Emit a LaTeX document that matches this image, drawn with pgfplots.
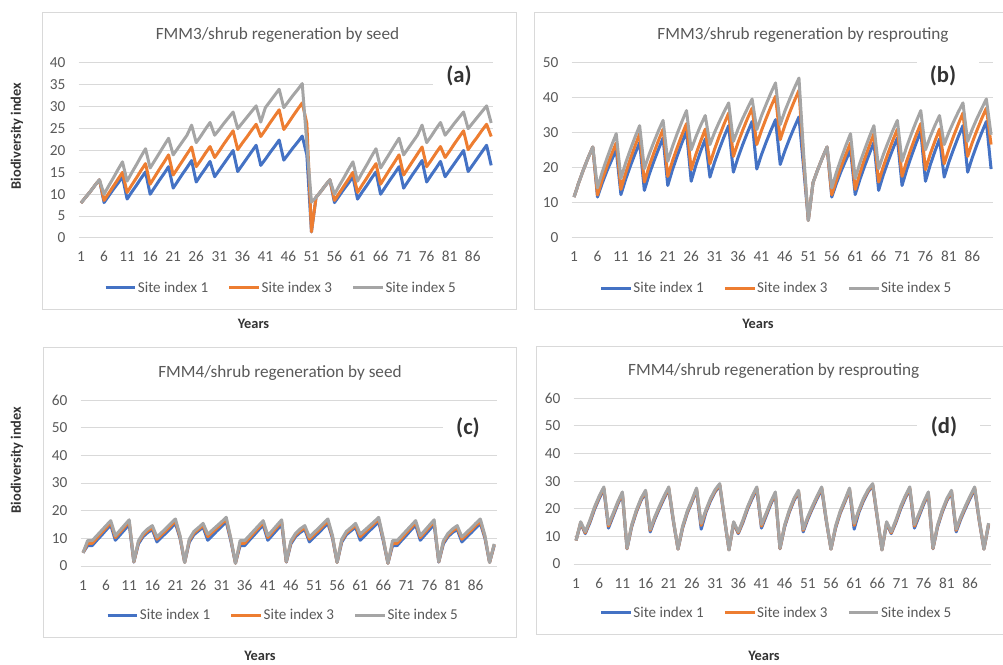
\documentclass[border=0pt]{standalone}
\usepackage{fontspec}
\setmainfont{Carlito}
\usepackage{pgfplots}
\usepackage{pgfplotstable}
\pgfplotsset{compat=1.18}

\definecolor{sone}{HTML}{4472C4}
\definecolor{sthree}{HTML}{ED7D31}
\definecolor{sfive}{HTML}{A5A5A5}
\definecolor{gridgray}{HTML}{D9D9D9}
\definecolor{ticktxt}{HTML}{595959}
\definecolor{labtxt}{HTML}{333333}

% k = year, b/o/g = site index 1/3/5
\pgfplotstableread{
k b o g
1 8.0 8.0 8.0
2 9.3 9.3 9.3
3 10.6 10.6 10.6
4 12.0 12.0 12.0
5 13.3 13.3 13.3
6 8.1 8.6 10.0
7 9.6 10.2 11.9
8 11.1 11.8 13.7
9 12.5 13.4 15.6
10 14.0 15.0 17.4
11 8.9 10.4 13.0
12 10.5 12.1 14.9
13 12.0 13.7 16.7
14 13.6 15.4 18.6
15 15.1 17.0 20.4
16 10.0 12.3 16.0
17 11.6 14.0 17.7
18 13.2 15.7 19.4
19 14.7 17.3 21.1
20 16.3 19.0 22.8
21 11.4 14.4 19.0
22 13.0 16.0 20.5
23 14.6 17.6 22.0
24 16.1 19.2 23.5
25 17.7 20.8 25.8
26 12.8 16.3 21.8
27 14.4 17.8 23.3
28 15.9 19.4 24.9
29 17.5 20.9 26.4
30 14.0 18.4 23.5
31 15.5 19.9 24.8
32 17.0 21.5 26.2
33 18.5 23.0 27.5
34 20.0 24.5 28.8
35 15.2 20.2 25.0
36 16.7 21.7 26.3
37 18.2 23.1 27.6
38 19.7 24.6 28.9
39 21.2 26.0 30.2
40 16.6 23.2 26.5
41 18.0 24.7 29.8
42 19.5 26.3 31.2
43 20.9 27.8 32.6
44 22.4 29.3 34.0
45 17.8 24.8 29.8
46 19.2 26.3 31.2
47 20.6 27.9 32.6
48 21.9 29.4 33.9
49 23.3 30.9 35.3
50 19.0 26.2 21.5
51 1.4 1.4 8.2
52 9.3 9.3 9.3
53 10.6 10.6 10.6
54 12.0 12.0 12.0
55 13.3 13.3 13.3
56 8.1 8.6 10.0
57 9.6 10.2 11.9
58 11.1 11.8 13.7
59 12.5 13.4 15.6
60 14.0 15.0 17.4
61 8.9 10.4 13.0
62 10.5 12.1 14.9
63 12.0 13.7 16.7
64 13.6 15.4 18.6
65 15.1 17.0 20.4
66 10.0 12.3 16.0
67 11.6 14.0 17.7
68 13.2 15.7 19.4
69 14.7 17.3 21.1
70 16.3 19.0 22.8
71 11.4 14.4 19.0
72 13.0 16.0 20.5
73 14.6 17.6 22.0
74 16.1 19.2 23.5
75 17.7 20.8 25.8
76 12.8 16.3 21.8
77 14.4 17.8 23.3
78 15.9 19.4 24.9
79 17.5 20.9 26.4
80 14.0 18.4 23.5
81 15.5 19.9 24.8
82 17.0 21.5 26.2
83 18.5 23.0 27.5
84 20.0 24.5 28.8
85 15.2 20.2 25.0
86 16.7 21.7 26.3
87 18.2 23.1 27.6
88 19.7 24.6 28.9
89 21.2 26.0 30.2
90 16.6 23.2 26.3
}\seedthree

\pgfplotstableread{
k b o g
1 11.7 11.7 11.7
2 15.8 15.8 15.8
3 19.5 19.5 19.5
4 22.9 22.9 22.9
5 26.0 26.0 26.0
6 11.7 12.3 14.3
7 15.6 16.6 18.8
8 19.1 20.4 22.7
9 22.2 23.9 26.4
10 25.2 27.2 29.8
11 12.4 13.9 17.0
12 16.7 18.5 21.4
13 20.5 22.6 25.2
14 24.0 26.3 28.8
15 27.3 29.8 32.1
16 13.6 16.0 19.8
17 18.0 20.4 23.8
18 21.8 24.2 27.3
19 25.3 27.8 30.6
20 28.6 31.1 33.6
21 15.0 17.6 21.9
22 19.5 22.0 26.1
23 23.4 25.8 29.8
24 27.1 29.4 33.2
25 30.5 32.7 36.4
26 16.2 19.5 25.2
27 20.8 23.9 28.9
28 24.7 27.6 32.1
29 28.3 31.1 35.0
30 17.4 21.2 26.7
31 21.7 25.4 30.2
32 25.4 29.1 33.2
33 28.9 32.5 36.0
34 32.1 35.7 38.6
35 18.8 23.3 27.6
36 23.0 27.3 31.1
37 26.7 30.8 34.2
38 30.1 34.1 37.0
39 33.3 37.1 39.7
40 19.7 26.7 31.0
41 23.8 30.7 34.9
42 27.4 34.2 38.2
43 30.7 37.5 41.4
44 33.8 40.5 44.3
45 21.0 28.1 32.4
46 24.9 32.2 36.3
47 28.4 35.8 39.6
48 31.6 39.1 42.8
49 34.6 42.2 45.7
50 20.0 22.0 24.0
51 5.0 5.0 5.0
52 15.8 15.8 15.8
53 19.5 19.5 19.5
54 22.9 22.9 22.9
55 26.0 26.0 26.0
56 11.7 12.3 14.3
57 15.6 16.6 18.8
58 19.1 20.4 22.7
59 22.2 23.9 26.4
60 25.2 27.2 29.8
61 12.4 13.9 17.0
62 16.7 18.5 21.4
63 20.5 22.6 25.2
64 24.0 26.3 28.8
65 27.3 29.8 32.1
66 13.6 16.0 19.8
67 18.0 20.4 23.8
68 21.8 24.2 27.3
69 25.3 27.8 30.6
70 28.6 31.1 33.6
71 15.0 17.6 21.9
72 19.5 22.0 26.1
73 23.4 25.8 29.8
74 27.1 29.4 33.2
75 30.5 32.7 36.4
76 16.2 19.5 25.2
77 20.8 23.9 28.9
78 24.7 27.6 32.1
79 28.3 31.1 35.0
80 17.4 21.2 26.7
81 21.7 25.4 30.2
82 25.4 29.1 33.2
83 28.9 32.5 36.0
84 32.1 35.7 38.6
85 18.8 23.3 27.6
86 23.0 27.3 31.1
87 26.7 30.8 34.2
88 30.1 34.1 37.0
89 33.3 37.1 39.7
90 19.7 26.7 29.5
}\resproutthree

\pgfplotstableread{
k b o g
1 4.8 4.8 4.8
2 7.4 8.2 9.2
3 7.4 8.2 9.2
4 9.3 10.1 11.0
5 11.1 12.0 12.8
6 13.0 13.8 14.6
7 14.8 15.7 16.4
8 9.3 10.3 11.0
9 11.2 12.2 12.9
10 13.1 14.1 14.8
11 15.0 16.0 16.7
12 1.4 1.5 1.6
13 8.0 8.6 9.1
14 10.6 11.2 11.8
15 12.1 12.7 13.4
16 13.2 13.9 14.6
17 8.7 9.7 10.5
18 10.4 11.3 12.1
19 12.0 12.9 13.7
20 13.7 14.6 15.4
21 15.4 16.2 17.0
22 10.0 10.5 11.0
23 1.3 1.3 1.3
24 8.6 9.2 9.7
25 11.3 11.9 12.5
26 12.7 13.3 13.9
27 14.0 14.7 15.4
28 9.3 10.6 11.5
29 11.0 12.2 13.0
30 12.7 13.7 14.5
31 14.3 15.3 16.0
32 16.0 16.8 17.6
33 9.0 9.6 10.0
34 1.0 1.0 1.0
35 7.4 8.2 9.2
36 7.4 8.2 9.2
37 9.3 10.1 11.0
38 11.1 12.0 12.8
39 13.0 13.8 14.6
40 14.8 15.7 16.4
41 9.3 10.3 11.0
42 11.2 12.2 12.9
43 13.1 14.1 14.8
44 15.0 16.0 16.7
45 1.4 1.5 1.6
46 8.0 8.6 9.1
47 10.6 11.2 11.8
48 12.1 12.7 13.4
49 13.2 13.9 14.6
50 8.7 9.7 10.5
51 10.4 11.3 12.1
52 12.0 12.9 13.7
53 13.7 14.6 15.4
54 15.4 16.2 17.0
55 10.0 10.5 11.0
56 1.3 1.3 1.3
57 8.6 9.2 9.7
58 11.3 11.9 12.5
59 12.7 13.3 13.9
60 14.0 14.7 15.4
61 9.3 10.6 11.5
62 11.0 12.2 13.0
63 12.7 13.7 14.5
64 14.3 15.3 16.0
65 16.0 16.8 17.6
66 9.0 9.6 10.0
67 1.0 1.0 1.0
68 7.4 8.2 9.2
69 7.4 8.2 9.2
70 9.3 10.1 11.0
71 11.1 12.0 12.8
72 13.0 13.8 14.6
73 14.8 15.7 16.4
74 9.3 10.3 11.0
75 11.2 12.2 12.9
76 13.1 14.1 14.8
77 15.0 16.0 16.7
78 1.4 1.5 1.6
79 8.0 8.6 9.1
80 10.6 11.2 11.8
81 12.1 12.7 13.4
82 13.2 13.9 14.6
83 8.7 9.7 10.5
84 10.4 11.3 12.1
85 12.0 12.9 13.7
86 13.7 14.6 15.4
87 15.4 16.2 17.0
88 10.0 10.5 11.0
89 1.3 1.3 1.3
90 7.4 7.7 8.0
}\seedfour

\pgfplotstableread{
k b o g
1 8.5 8.5 8.5
2 14.7 15.0 15.3
3 11.0 11.3 11.7
4 15.0 15.5 15.9
5 19.8 20.3 20.7
6 23.7 24.2 24.6
7 27.0 27.5 27.9
8 13.0 13.7 14.3
9 17.3 17.9 18.3
10 21.6 22.1 22.5
11 25.3 25.7 26.1
12 5.5 5.6 5.7
13 13.4 13.8 14.1
14 18.7 19.1 19.5
15 22.9 23.3 23.7
16 25.9 26.3 26.7
17 11.6 12.2 12.6
18 16.2 16.7 17.1
19 20.1 20.6 21.0
20 23.7 24.2 24.6
21 27.0 27.5 27.9
22 15.4 15.7 16.0
23 5.4 5.4 5.4
24 13.0 13.4 13.8
25 18.4 18.8 19.2
26 22.4 22.8 23.2
27 26.7 27.1 27.5
28 12.6 14.0 14.7
29 18.6 19.1 19.5
30 22.8 23.3 23.7
31 26.1 26.5 26.9
32 28.4 28.7 29.1
33 16.5 16.8 17.1
34 5.1 5.1 5.1
35 14.7 15.0 15.3
36 11.0 11.3 11.7
37 15.0 15.5 15.9
38 19.8 20.3 20.7
39 23.7 24.2 24.6
40 27.0 27.5 27.9
41 13.0 13.7 14.3
42 17.3 17.9 18.3
43 21.6 22.1 22.5
44 25.3 25.7 26.1
45 5.5 5.6 5.7
46 13.4 13.8 14.1
47 18.7 19.1 19.5
48 22.9 23.3 23.7
49 25.9 26.3 26.7
50 11.6 12.2 12.6
51 16.2 16.7 17.1
52 20.1 20.6 21.0
53 23.7 24.2 24.6
54 27.0 27.5 27.9
55 15.4 15.7 16.0
56 5.4 5.4 5.4
57 13.0 13.4 13.8
58 18.4 18.8 19.2
59 22.4 22.8 23.2
60 26.7 27.1 27.5
61 12.6 14.0 14.7
62 18.6 19.1 19.5
63 22.8 23.3 23.7
64 26.1 26.5 26.9
65 28.4 28.7 29.1
66 16.5 16.8 17.1
67 5.1 5.1 5.1
68 14.7 15.0 15.3
69 11.0 11.3 11.7
70 15.0 15.5 15.9
71 19.8 20.3 20.7
72 23.7 24.2 24.6
73 27.0 27.5 27.9
74 13.0 13.7 14.3
75 17.3 17.9 18.3
76 21.6 22.1 22.5
77 25.3 25.7 26.1
78 5.5 5.6 5.7
79 13.4 13.8 14.1
80 18.7 19.1 19.5
81 22.9 23.3 23.7
82 25.9 26.3 26.7
83 11.6 12.2 12.6
84 16.2 16.7 17.1
85 20.1 20.6 21.0
86 23.7 24.2 24.6
87 27.0 27.5 27.9
88 15.4 15.7 16.0
89 5.4 5.4 5.4
90 14.1 14.5 14.8
}\resproutfour

\pgfplotsset{
  excelpanel/.style={
    scale only axis,
    xmin=0.5, xmax=90.5, ymin=0,
    xtick={1,6,...,86},
    axis line style={draw=none},
    major tick length=0pt,
    ymajorgrids=true,
    major grid style={draw=gridgray, line width=0.75pt},
    tick label style={font=\fontsize{11.5}{13}\selectfont, text=ticktxt, inner sep=0pt},
    xticklabel style={anchor=base, yshift=-18pt},
    yticklabel style={anchor=east, xshift=-9.75pt},
    /pgf/number format/assume math mode=true,
    legend columns=3,
    legend cell align=left,
    legend style={draw=none, fill=none, anchor=center,
      font=\fontsize{11.3}{13}\selectfont, text=ticktxt,
      nodes={inner sep=0.8pt}, column sep=0pt,
      /tikz/every even column/.append style={column sep=14pt}},
    legend image code/.code={\draw[#1] (0pt,0pt) -- (22.3pt,0pt);},
  },
  si1/.style={draw=sone, line width=2.25pt, line join=round},
  si3/.style={draw=sthree, line width=2.25pt, line join=round},
  si5/.style={draw=sfive, line width=2.25pt, line join=round},
}

\begin{document}
\begin{tikzpicture}[x=0.75pt, y=0.75pt]
\path[use as bounding box] (0,0) rectangle (1003,664);

% chart frames
\draw[gridgray, line width=0.75pt] (42,651) rectangle (516,354);
\draw[gridgray, line width=0.75pt] (1003,651) -- (534,651) -- (534,354) -- (1003,354);
\draw[gridgray, line width=0.75pt] (43,316) rectangle (516,27);
\draw[gridgray, line width=0.75pt] (1003,317) -- (536,317) -- (536,29) -- (1003,29);

% (a)
\begin{axis}[excelpanel, at={(59.03pt,319.5pt)}, anchor=south west,
  width=311.1pt, height=131.25pt, ymax=40, ytick={0,5,...,40},
  legend style={at={(0.4865,-0.2857)}}]
\addplot[si1] table[x=k, y=b] {\seedthree};
\addplot[si3] table[x=k, y=o] {\seedthree};
\addplot[si5] table[x=k, y=g] {\seedthree};
\legend{Site index 1, Site index 3, Site index 5}
\end{axis}

% (b)
\begin{axis}[excelpanel, at={(428.78pt,319.5pt)}, anchor=south west,
  width=316.28pt, height=131.25pt, ymax=50, ytick={0,10,...,50},
  legend style={at={(0.4845,-0.2874)}}]
\addplot[si1] table[x=k, y=b] {\resproutthree};
\addplot[si3] table[x=k, y=o] {\resproutthree};
\addplot[si5] table[x=k, y=g] {\resproutthree};
\legend{Site index 1, Site index 3, Site index 5}
\end{axis}

% (c)
\begin{axis}[excelpanel, at={(60.53pt,73.5pt)}, anchor=south west,
  width=311.85pt, height=124.5pt, ymax=60, ytick={0,10,...,60},
  legend style={at={(0.4853,-0.2952)}}]
\addplot[si1] table[x=k, y=b] {\seedfour};
\addplot[si3] table[x=k, y=o] {\seedfour};
\addplot[si5] table[x=k, y=g] {\seedfour};
\legend{Site index 1, Site index 3, Site index 5}
\end{axis}

% (d)
\begin{axis}[excelpanel, at={(430.28pt,75pt)}, anchor=south west,
  width=312.9pt, height=124.28pt, ymax=60, ytick={0,10,...,60},
  legend style={at={(0.4849,-0.2957)}}]
\addplot[si1] table[x=k, y=b] {\resproutfour};
\addplot[si3] table[x=k, y=o] {\resproutfour};
\addplot[si5] table[x=k, y=g] {\resproutfour};
\legend{Site index 1, Site index 3, Site index 5}
\end{axis}

% text boxes of the panel letters hide the grid behind them
\fill[white] (433,564) rectangle (496,596);
\fill[white] (917,570) rectangle (979,612);
\fill[white] (443,222) rectangle (498,249);
\fill[white] (917,222) rectangle (980,252);

\begin{scope}[every node/.style={font=\bfseries\fontsize{17}{20}\selectfont, text=labtxt}]
\node at (459,588) {(a)};
\node at (943,588) {(b)};
\node at (468,236) {(c)};
\node at (944,237) {(d)};
\end{scope}

% titles
\begin{scope}[every node/.style={font=\fontsize{12.9}{15}\selectfont, text=ticktxt, anchor=base}]
\node at (277.5,624) {FMM3/shrub regeneration by seed};
\node at (803,624) {FMM3/shrub regeneration by resprouting};
\node at (280,286.7) {FMM4/shrub regeneration by seed};
\node at (773.7,288) {FMM4/shrub regeneration by resprouting};
\end{scope}

% axis titles
\begin{scope}[every node/.style={font=\bfseries\fontsize{10.8}{13}\selectfont, text=labtxt}]
\node[rotate=90] at (17,528) {Biodiversity index};
\node[rotate=90] at (17,204) {Biodiversity index};
\node[anchor=base] at (253.5,335.7) {Years};
\node[anchor=base] at (758,335.7) {Years};
\node[anchor=base] at (260,3.3) {Years};
\node[anchor=base] at (764,3.3) {Years};
\end{scope}
\end{tikzpicture}
\end{document}
